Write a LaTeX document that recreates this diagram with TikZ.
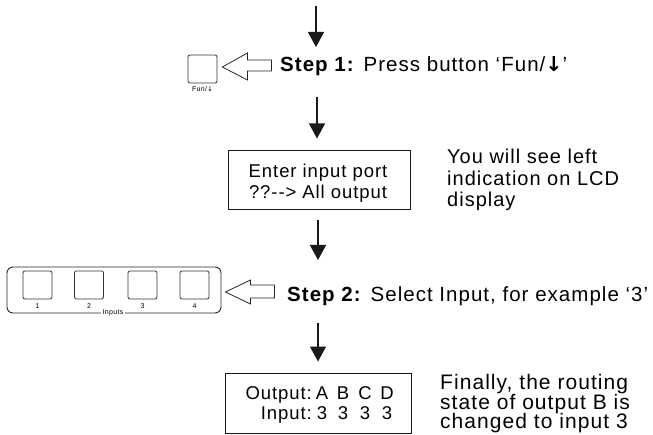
\documentclass[tikz,border=0pt]{standalone}
\usepackage{fontspec}
\setmainfont{Liberation Sans}[LetterSpace=5]
\newfontfamily\arrowfont{DejaVu Sans}
\usetikzlibrary{arrows.meta,calc}
\begin{document}
\begin{tikzpicture}[x=1bp,y=-1bp,
  flow/.style={line width=1.3bp,draw=black!90,-{Triangle[width=16bp,length=15bp]}},
  hollow/.style={draw=black!85,line width=0.8bp,fill=white,line join=miter},
  btn/.style={draw=black!80,line width=0.8bp,rounded corners=2bp,minimum width=29bp,minimum height=28bp,inner sep=0},
  lcd/.style={draw=black!90,line width=1bp,inner sep=0},
  steptxt/.style={font=\fontsize{20.5bp}{24bp}\selectfont,inner sep=0,anchor=base west},
  notetxt/.style={font=\fontsize{20bp}{24bp}\selectfont,inner sep=0,anchor=base west},
  lcdtxt/.style={font=\fontsize{18.5bp}{22bp}\selectfont,inner sep=0},
  tiny/.style={font=\fontsize{7bp}{8bp}\selectfont,inner sep=0}
]
\useasboundingbox (0,0) rectangle (653,435);

% ---- boxes ----
\node[btn] (fun) at (202.5,69) {};
\node[tiny,anchor=base] (funlbl) at (202.5,92) {Fun/{\arrowfont ↓}};

\node[lcd,minimum width=182bp,minimum height=59bp] (lcd1) at (319,180.5) {};
\node[lcdtxt,anchor=base] (l1a) at (318,178) {Enter input port};
\node[lcdtxt,anchor=base] (l1b) at (318,199) {?{}?-{}-> All output};

\node[draw=black!85,line width=0.9bp,rounded corners=6bp,minimum width=214bp,minimum height=46bp,inner sep=0] (inbox) at (114,290) {};
\node[btn] (b1) at (37.5,285) {};
\node[btn] (b2) at (89,285) {};
\node[btn] (b3) at (142.5,285) {};
\node[btn] (b4) at (194.5,285) {};
\node[tiny,anchor=base] (n1) at (37.5,309) {1};
\node[tiny,anchor=base] (n2) at (89,309) {2};
\node[tiny,anchor=base] (n3) at (142.5,309) {3};
\node[tiny,anchor=base] (n4) at (194.5,309) {4};
\node[tiny,fill=white,inner xsep=2bp,inner ysep=1bp,anchor=center] (inlbl) at (113,312.5) {Inputs};

\node[lcd,minimum width=186bp,minimum height=60bp] (lcd2) at (318,403) {};
\node[lcdtxt,anchor=base east] (o1) at (312,399) {Output:};
\node[lcdtxt,anchor=base east] (o2) at (312,419) {Input:};
\foreach \c/\xx in {A/322,B/343,C/365,D/387}{
  \node[lcdtxt,anchor=base] (top\c) at (\xx,399) {\c};
  \node[lcdtxt,anchor=base] (bot\c) at (\xx,419) {3};
}

% ---- texts ----
\node[steptxt] (step1) at (280,72) {\textbf{Step 1:} Press button ‘Fun/{\arrowfont\bfseries ↓}’};
\node[steptxt] (step2) at (287,302) {\textbf{Step 2:} Select Input, for example ‘3’};

\node[notetxt] (r1a) at (447,164) {You will see left};
\node[notetxt] (r1b) at (447,186) {indication on LCD};
\node[notetxt] (r1c) at (447,207) {display};

\node[notetxt,font=\fontsize{21bp}{24bp}\selectfont] (r2a) at (440,389) {Finally, the routing};
\node[notetxt,font=\fontsize{21bp}{24bp}\selectfont] (r2b) at (440,409) {state of output B is};
\node[notetxt,font=\fontsize{21bp}{24bp}\selectfont] (r2c) at (440,428) {changed to input 3};

% ---- vertical flow arrows ----
\coordinate (a0) at (316,6);
\coordinate (a1) at (316,47);
\coordinate (a2) at (317,97);
\coordinate (a3) at (318,220);
\coordinate (a3e) at (318,260);
\coordinate (a4) at (318,323);
\draw[flow] (a0) -- (a1);
\draw[flow] (a2) -- ([yshift=12bp]lcd1.north -| a2);
\draw[flow] (a3) -- (a3e);
\draw[flow] (a4) -- ([yshift=11bp]lcd2.north -| a4);

% ---- hollow arrows (step text -> button) ----
\coordinate (h1) at ($(fun.east)+(5,-2)$);
\draw[hollow] (h1) -- ++(25,-14) -- ++(0,7) -- ++(24,0) -- ++(0,11) -- ++(-24,0) -- ++(0,9) -- cycle;
\coordinate (h2) at ($(inbox.east)+(4,2)$);
\draw[hollow] (h2) -- ++(25,-12) -- ++(0,5) -- ++(24,0) -- ++(0,13) -- ++(-24,0) -- ++(0,6) -- cycle;
\end{tikzpicture}
\end{document}
